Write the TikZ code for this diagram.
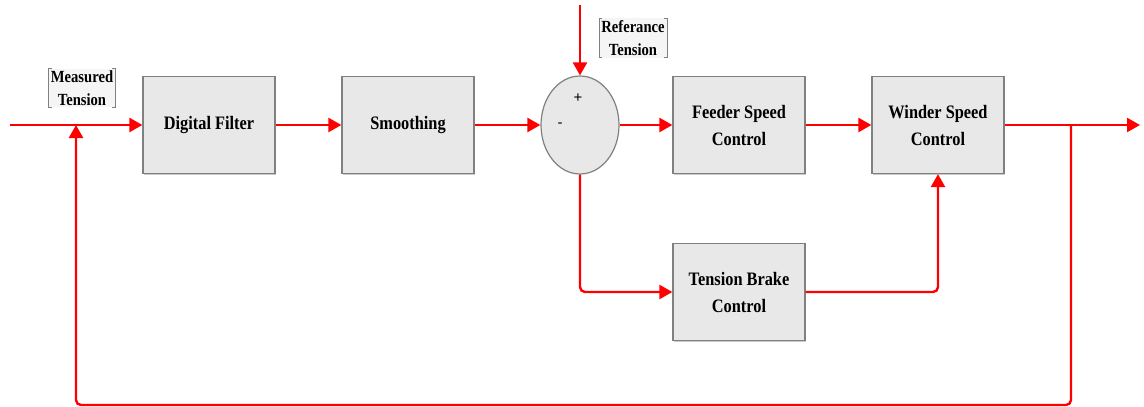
\documentclass[tikz,border=0pt]{standalone}
\usepackage{fontspec}
\setmainfont{Liberation Serif}
\newfontfamily\sansf{Liberation Sans}
\newfontfamily\blockfont[FakeStretch=0.86]{Liberation Serif}
\usetikzlibrary{arrows.meta,shapes.geometric,shadows}
\definecolor{linered}{RGB}{255,0,0}
\definecolor{boxfill}{RGB}{232,232,232}
\definecolor{boxedge}{RGB}{128,128,128}
\tikzset{
  blockbox/.style={draw=boxedge,line width=1.2pt,fill=boxfill,minimum width=132pt,minimum height=97pt,align=center,font=\blockfont\bfseries\fontsize{19}{27}\selectfont,
    drop shadow={shadow xshift=1pt,shadow yshift=-1.5pt,fill=gray!70,opacity=0.6}},
  sumnode/.style={draw=boxedge,line width=1.2pt,fill=boxfill,ellipse,minimum width=78pt,minimum height=98pt,inner sep=0pt},
  sig/.style={draw=linered,line width=2.4pt,-{Triangle[length=13pt,width=14pt]},rounded corners=5pt},
  sign/.style={font=\sansf\fontsize{15}{17}\selectfont,inner sep=0pt},
  tag/.style={fill=gray!8,align=center,inner sep=2pt,font=\blockfont\bfseries\fontsize{17}{23}\selectfont},
}
\begin{document}
\begin{tikzpicture}[x=1pt,y=-1pt]
\useasboundingbox (0,0) rectangle (1144,407);
\node[blockbox] (df) at (209,125) {Digital Filter};
\node[blockbox] (sm) at (408,125) {Smoothing};
\node[sumnode] (sum) at (580,125) {};
\node[sign] (plus) at (578,98) {+};
\node[sign] (minus) at (560,125) {-};
\node[blockbox] (fs) at (739,125) {Feeder Speed\\Control};
\node[blockbox] (ws) at (938,125) {Winder Speed\\Control};
\node[blockbox] (tb) at (739,292) {Tension Brake\\Control};
\node[tag] (mt) at (82,88) {Measured\\Tension};
\node[tag] (rt) at (633,38) {Referance\\Tension};
\foreach \n in {mt,rt}{
  \draw[gray,line width=0.6pt] ([xshift=3pt]\n.north west) -- (\n.north west) -- (\n.south west) -- ([xshift=3pt]\n.south west);
  \draw[gray,line width=0.6pt] ([xshift=-3pt]\n.north east) -- (\n.north east) -- (\n.south east) -- ([xshift=-3pt]\n.south east);
}
\coordinate (in) at (10,125);
\coordinate (out) at (1140,125);
\coordinate (split) at (1071,125);
\coordinate (fbjoin) at (76,125);
\coordinate (ref) at (580,5);
\draw[sig] (in) -- (df.west);
\draw[sig] (df.east) -- (sm.west);
\draw[sig] (sm.east) -- (sum.west);
\draw[sig] (ref) -- (sum.north);
\draw[sig] (sum.east) -- (fs.west);
\draw[sig] (fs.east) -- (ws.west);
\draw[sig] (ws.east) -- (out);
\draw[sig] (sum.south) |- (tb.west);
\draw[sig] (tb.east) -| (ws.south);
\draw[sig] (split) -- (1071,405) -- (76,405) -- (fbjoin);
\end{tikzpicture}
\end{document}
